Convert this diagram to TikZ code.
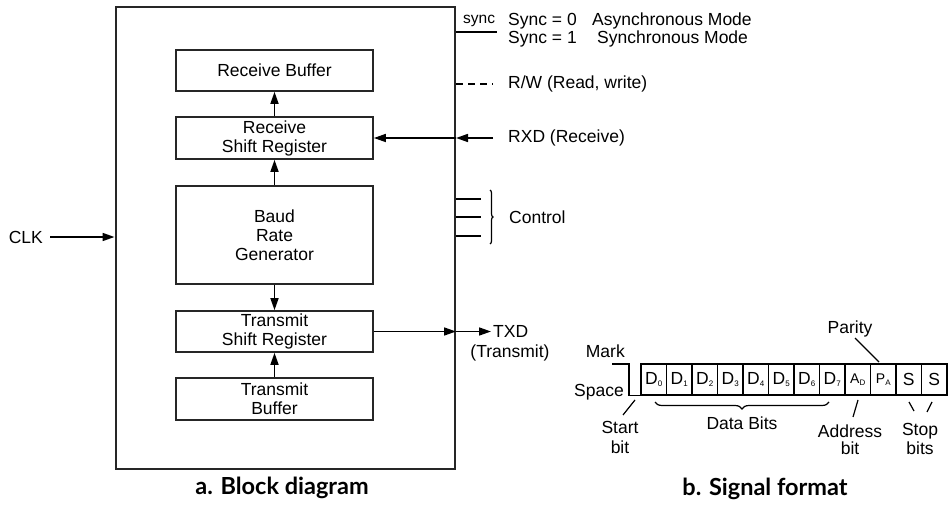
\documentclass[tikz,border=0pt]{standalone}
\usepackage{fontspec}
\setmainfont{Liberation Sans}
\newfontfamily\titlefont{Lato}
\usetikzlibrary{arrows.meta,decorations.pathreplacing}
\newcommand{\sbs}[1]{\raisebox{-2.5pt}{\fontsize{8}{8}\selectfont #1}}
\begin{document}
\begin{tikzpicture}[x=1pt,y=-1pt,
  txt/.style={font=\fontsize{17.5}{19}\selectfont, inner sep=0pt, align=center},
  blk/.style={draw=black!85, line width=1.7pt, minimum width=197pt, inner sep=0pt, align=center, font=\fontsize{17.5}{19}\selectfont},
  conn/.style={line width=1.6pt, -{Triangle[length=12pt,width=8pt]}},
  wire/.style={line width=1.6pt},
  thin/.style={line width=1.2pt},
  cell/.style={draw, line width=1.3pt, minimum width=25.5pt, minimum height=31pt, inner sep=0pt, font=\fontsize{17.5}{19}\selectfont},
  ttl/.style={font=\titlefont\bfseries\fontsize{23.5}{26}\selectfont, inner sep=0pt}
]
\useasboundingbox (0,0) rectangle (952,505);

% main block
\node[draw=black!85, line width=2pt, minimum width=339.5pt, minimum height=462pt, inner sep=0pt] (main) at (285.25,238) {};
\node[blk, minimum height=41pt] (rb)  at (274.5,70.5) {Receive Buffer};
\node[blk, minimum height=42pt] (rsr) at (274.5,138) {Receive\\Shift Register};
\node[blk, minimum height=98pt] (brg) at (274.5,235) {Baud\\Rate\\Generator};
\node[blk, minimum height=41pt] (tsr) at (274.5,331.5) {Transmit\\Shift Register};
\node[blk, minimum height=42pt] (tb)  at (274.5,399) {Transmit\\Buffer};

\draw[conn] (rsr.north) -- (rb.south);
\draw[conn] (brg.north) -- (rsr.south);
\draw[conn] (brg.south) -- (tsr.north);
\draw[conn] (tb.north) -- (tsr.south);

% CLK
\coordinate (clkin) at (50,237);
\node[txt, anchor=east] (clk) at (43,237) {CLK};
\draw[conn] (clkin) -- (clkin -| main.west);

% sync
\coordinate (syncend) at (497,32);
\draw[wire] (syncend -| main.east) -- (syncend);
\node[font=\fontsize{15.5}{17}\selectfont, inner sep=0pt, anchor=base west] (synclbl) at (463,24) {sync};
\node[txt, anchor=west] (s0) at (508,21) {Sync = 0};
\node[txt, anchor=west] (s0m) at (592,21) {Asynchronous Mode};
\node[txt, anchor=west] (s1) at (508,39) {Sync = 1};
\node[txt, anchor=west] (s1m) at (597,39) {Synchronous Mode};

% R/W
\coordinate (rwend) at (493,84);
\draw[wire, dash pattern=on 7pt off 5pt] (rwend -| main.east) -- (rwend);
\node[txt, anchor=west] (rw) at (508,84) {R/W (Read, write)};

% RXD
\coordinate (rxdin) at (493,138);
\draw[conn] (rxdin) -- (rxdin -| main.east);
\draw[conn] (rxdin -| main.east) -- (rsr.east);
\node[txt, anchor=west] (rxd) at (508,138) {RXD (Receive)};

% Control
\coordinate (c1) at (481,199);
\coordinate (c2) at (481,217);
\coordinate (c3) at (481,236);
\draw[wire] (c1 -| main.east) -- (c1);
\draw[wire] (c2 -| main.east) -- (c2);
\draw[wire] (c3 -| main.east) -- (c3);
\draw[thin, decorate, decoration={brace, amplitude=3pt}] (490,190) -- (490,244);
\node[txt, anchor=west] (ctrl) at (509,217) {Control};

% TXD
\coordinate (txdend) at (491,331.5);
\draw[conn] (tsr.east) -- (tsr.east -| main.east);
\draw[conn] (tsr.east -| main.east) -- (txdend);
\node[txt, anchor=west] (txd) at (493,331.5) {TXD};
\node[txt] (txd2) at (510,353) {(Transmit)};

% titles
\node[ttl] (ta) at (282,488) {a. Block diagram};
\node[ttl] (tbb) at (765,489) {b. Signal format};

% signal format
\foreach \i/\l in {0/D\sbs{0},1/D\sbs{1},2/D\sbs{2},3/D\sbs{3},4/D\sbs{4},5/D\sbs{5},6/D\sbs{6},7/D\sbs{7},10/S,11/S}{
  \node[cell] (cell\i) at ({641+25.5*(\i+0.5)},379.5) {\l};
}
\node[cell, font=\fontsize{14}{16}\selectfont] (cell8) at ({641+25.5*8.5},379.5) {A\sbs{D}};
\node[cell, font=\fontsize{14}{16}\selectfont] (cell9) at ({641+25.5*9.5},379.5) {P\sbs{A}};

\coordinate (markst) at (612,364);
\draw[wire] (markst) -- (629,364) |- (cell0.south west);
\node[txt, anchor=east] (mark) at (625,351) {Mark};
\node[txt, anchor=east] (space) at (624,392) {Space};

% Start
\coordinate (st1) at (635,400);
\coordinate (st2) at (623,415);
\draw[thin] (st1) -- (st2);
\node[txt] (start) at (620,427) {Start};
\node[txt] (startb) at (620,447) {bit};

% Data bits brace
\draw[thin, decorate, decoration={brace, amplitude=7pt, mirror}] (655,402) -- (829,402);
\node[txt] (db) at (742,423) {Data Bits};

% Address
\coordinate (ad1) at (858,400);
\coordinate (ad2) at (853,417);
\draw[thin] (ad1) -- (ad2);
\node[txt] (addr) at (850,431) {Address};
\node[txt] (addrb) at (850,448) {bit};

% Parity
\coordinate (pa1) at (855,338);
\coordinate (pa2) at (879,362);
\draw[thin] (pa1) -- (pa2);
\node[txt] (par) at (850,329) {Parity};

% Stop
\coordinate (sp1) at (909,402);
\coordinate (sp2) at (914,411);
\coordinate (sp3) at (932,402);
\coordinate (sp4) at (927,412);
\draw[thin] (sp1) -- (sp2);
\draw[thin] (sp3) -- (sp4);
\node[txt] (stop) at (920,431) {Stop};
\node[txt] (stopb) at (920,448) {bits};
\end{tikzpicture}
\end{document}
